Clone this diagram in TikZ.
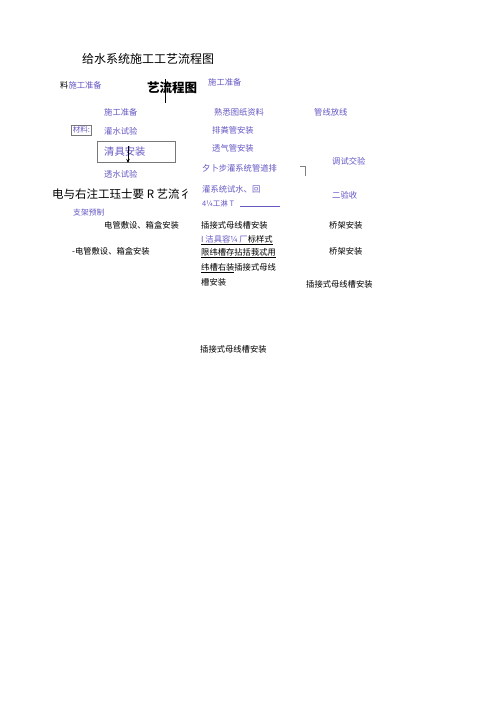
\documentclass[tikz,border=0pt]{standalone}
\usepackage{fontspec}
\setmainfont{Noto Sans CJK SC}
\newfontfamily\cjkb{Noto Sans CJK SC Bold}
\usetikzlibrary{arrows.meta}
\definecolor{lbl}{RGB}{100,88,196}
\definecolor{boxgray}{RGB}{120,120,120}
\tikzset{
  t/.style={anchor=west,inner sep=0pt,font=\fontsize{8.3pt}{10pt}\selectfont},
  bt/.style={t,text=lbl},
  kt/.style={t,text=black},
  big/.style={anchor=west,inner sep=0pt,font=\fontsize{12pt}{14pt}\selectfont},
}
\begin{document}
\begin{tikzpicture}[x=1pt,y=-1pt]
\useasboundingbox[fill=white] (0,0) rectangle (500,707);
% title
\node[big] (title) at (82,59) {给水系统施工工艺流程图};
\node[kt] (liao) at (60,85) {料\textcolor{lbl}{施工准备}};
\node[anchor=west,inner sep=0pt,font=\fontsize{12.5pt}{14pt}\selectfont\bfseries] (gy) at (147,88) {艺流程图};
\coordinate (vl1) at (165,79);
\coordinate (vl2) at (165,103);
\draw[line width=0.8pt] (vl1) -- (vl2);
\node[bt] (sg2) at (208,82) {施工准备};
% row
\node[bt] (sg3) at (104,112) {施工准备};
\node[bt] (sx) at (214,112) {熟悉图纸资料};
\node[bt] (gx) at (314,112) {管线放线};
\node[bt,draw=boxgray,line width=0.5pt,inner sep=1.5pt,font=\fontsize{7.5pt}{9pt}\selectfont] (cl) at (71,130) {材料:};
\node[bt] (gs) at (104,131) {灌水试验};
\node[bt] (pf) at (212,130) {排粪管安装};
\node[draw=boxgray,line width=0.5pt,minimum width=78pt,minimum height=21pt,inner sep=0pt] (box) at (136,151.5) {};
\node[anchor=west,inner sep=0pt,text=lbl,font=\fontsize{10.3pt}{12pt}\selectfont] (qj) at (104,152) {清具安装};
\coordinate (ar1) at (128,146);
\coordinate (ar2) at (128,163);
\draw[-{Stealth[length=4pt,width=3.5pt]},line width=0.7pt] (ar1) -- (ar2);
\node[bt] (tq) at (212,148) {透气管安装};
\node[bt] (ts) at (332,161) {调试交验};
\node[bt] (wb) at (202,168) {夕卜步灌系统管道排};
\coordinate (br1) at (300,166);
\coordinate (br2) at (305,166);
\coordinate (br3) at (305,176);
\draw[line width=0.8pt,gray] (br1) -- (br2) -- (br3);
\node[bt] (tsy) at (104,174) {透水试验};
% big line
\node[anchor=west,inner sep=0pt,font=\fontsize{11.5pt}{14pt}\selectfont] (dy) at (52,194) {电与右注工珏士要 R 艺流彳};
\node[bt] (gxt) at (202,189) {灌系统试水、回};
\node[bt,font=\fontsize{7.5pt}{9pt}\selectfont] (gl) at (202,204) {4¼工淋 T};
\coordinate (ul1) at (240,206);
\coordinate (ul2) at (280,206);
\draw[lbl,line width=0.5pt] (ul1) -- (ul2);
\node[bt] (ey) at (332,195) {二验收};
\node[bt,font=\fontsize{7.8pt}{9pt}\selectfont] (zj) at (73,213) {支架预制};
% lower rows
\node[kt] (dg1) at (104,225) {电管敷设、箱盒安装};
\node[kt] (cj1) at (201,225) {插接式母线槽安装};
\node[kt] (qa1) at (329,225) {桥架安装};
\node[kt] (l2) at (201,240) {\underline{\textcolor{lbl}{I 洁具容¼ 厂}标样式}};
\node[kt] (dg2) at (72,251) {-电管敷设、箱盒安装};
\node[kt] (l3) at (201,253) {\underline{限纬槽存拈括莪忒用}};
\node[kt] (qa2) at (329,251) {桥架安装};
\node[kt] (l4) at (201,268) {\underline{纬槽右装}插接式母线};
\node[kt] (l5) at (201,282) {槽安装};
\node[kt] (cj2) at (306,284) {插接式母线槽安装};
\node[kt] (cj3) at (200,349) {插接式母线槽安装};
\end{tikzpicture}
\end{document}
